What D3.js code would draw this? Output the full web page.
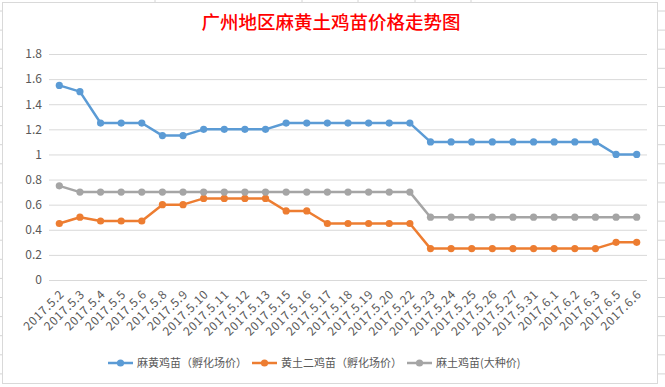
<!DOCTYPE html>
<html>
<head>
<meta charset="utf-8">
<script src="https://cdn.jsdelivr.net/npm/d3@7"></script>
<style>
  html, body { margin: 0; padding: 0; background: #fff; }
  svg { display: block; }
  text { font-family: "Noto Sans CJK SC", "Noto Sans", sans-serif; }
</style>
</head>
<body>
<svg id="chart" width="665" height="387"></svg>
<script>
const title = "广州地区麻黄土鸡苗价格走势图";
const categories = ["2017.5.2","2017.5.3","2017.5.4","2017.5.5","2017.5.6","2017.5.8","2017.5.9","2017.5.10","2017.5.11","2017.5.12","2017.5.13","2017.5.15","2017.5.16","2017.5.17","2017.5.18","2017.5.19","2017.5.20","2017.5.22","2017.5.23","2017.5.24","2017.5.25","2017.5.26","2017.5.27","2017.5.31","2017.6.1","2017.6.2","2017.6.3","2017.6.5","2017.6.6"];
const seriesNames = ["麻黄鸡苗（孵化场价）", "黄土二鸡苗（孵化场价）", "麻土鸡苗(大种价)"];
const mahuang = [1.55,1.5,1.25,1.25,1.25,1.15,1.15,1.2,1.2,1.2,1.2,1.25,1.25,1.25,1.25,1.25,1.25,1.25,1.1,1.1,1.1,1.1,1.1,1.1,1.1,1.1,1.1,1.0,1.0];
const huangtu = [0.45,0.5,0.47,0.47,0.47,0.6,0.6,0.65,0.65,0.65,0.65,0.55,0.55,0.45,0.45,0.45,0.45,0.45,0.25,0.25,0.25,0.25,0.25,0.25,0.25,0.25,0.25,0.3,0.3];
const matu = [0.75,0.7,0.7,0.7,0.7,0.7,0.7,0.7,0.7,0.7,0.7,0.7,0.7,0.7,0.7,0.7,0.7,0.7,0.5,0.5,0.5,0.5,0.5,0.5,0.5,0.5,0.5,0.5,0.5];
const yTicks = [0,0.2,0.4,0.6,0.8,1,1.2,1.4,1.6,1.8];
const colors = ["#5B9BD5", "#ED7D31", "#A5A5A5"];

const svg = d3.select("#chart");

// spreadsheet background hints
const bg = svg.append("g");
for (let i = 0; i < 20; i++) {
  const yy = 11 + i * 19.1;
  bg.append("line").attr("x1", 0).attr("x2", 2).attr("y1", yy).attr("y2", yy).attr("stroke", "#d4d4d4");
  bg.append("line").attr("x1", 658).attr("x2", 665).attr("y1", yy).attr("y2", yy).attr("stroke", "#d4d4d4");
}
[155, 302, 358, 415, 471].forEach(xx => {
  bg.append("line").attr("x1", xx).attr("x2", xx).attr("y1", 0).attr("y2", 2).attr("stroke", "#d4d4d4");
});

// chart frame
svg.append("rect").attr("x", 2.5).attr("y", 2.5).attr("width", 655).attr("height", 381)
  .attr("fill", "#fff").attr("stroke", "#d9d9d9");

const x = d3.scalePoint().domain(categories).range([49, 647]).padding(0.5);
const y = d3.scaleLinear().domain([0, 1.8]).range([280, 54]);

// title
svg.append("text").attr("x", 331).attr("y", 29).attr("text-anchor", "middle")
  .attr("fill", "#FF0000").attr("font-size", 18.5).attr("font-weight", 500).text(title);

// gridlines
const yAxis = d3.axisLeft(y).tickValues(yTicks).tickSize(-(647 - 49)).tickPadding(7)
  .tickFormat(d => String(+d.toFixed(1)));
const gy = svg.append("g").attr("transform", "translate(49,0)").call(yAxis);
gy.select(".domain").remove();
gy.selectAll(".tick line").attr("stroke", "#d9d9d9");
gy.selectAll(".tick text").attr("fill", "#595959").attr("font-size", 12);

// x axis labels
const xAxis = d3.axisBottom(x).tickSize(0).tickPadding(0);
const gx = svg.append("g").attr("transform", "translate(0,280)").call(xAxis);
gx.select(".domain").remove();
gx.selectAll(".tick text")
  .attr("fill", "#595959").attr("font-size", 12)
  .attr("letter-spacing", 0.6)
  .attr("text-anchor", "end")
  .attr("dy", 0).attr("y", 0)
  .attr("transform", "translate(5,15) rotate(-45)");

// series
const data = [mahuang, huangtu, matu];
const line = d3.line().x((d, i) => x(categories[i])).y(d => y(d));
data.forEach((vals, si) => {
  svg.append("path").datum(vals).attr("d", line).attr("fill", "none")
    .attr("stroke", colors[si]).attr("stroke-width", 2.5).attr("stroke-linejoin", "round").attr("stroke-linecap", "round");
  svg.append("g").selectAll("circle").data(vals).join("circle")
    .attr("cx", (d, i) => x(categories[i])).attr("cy", d => y(d)).attr("r", 3.6)
    .attr("fill", colors[si]);
});

// legend
const legendX = [108, 252, 407];
const lg = svg.append("g");
seriesNames.forEach((name, i) => {
  const g = lg.append("g").attr("transform", `translate(${legendX[i]},363)`);
  g.append("line").attr("x1", 0).attr("x2", 25).attr("y1", 0).attr("y2", 0)
    .attr("stroke", colors[i]).attr("stroke-width", 2.5);
  g.append("circle").attr("cx", 12.5).attr("cy", 0).attr("r", 3.6).attr("fill", colors[i]);
  g.append("text").attr("x", 29).attr("y", 4).attr("font-size", 11).attr("fill", "#595959").text(name);
});
</script>
</body>
</html>
